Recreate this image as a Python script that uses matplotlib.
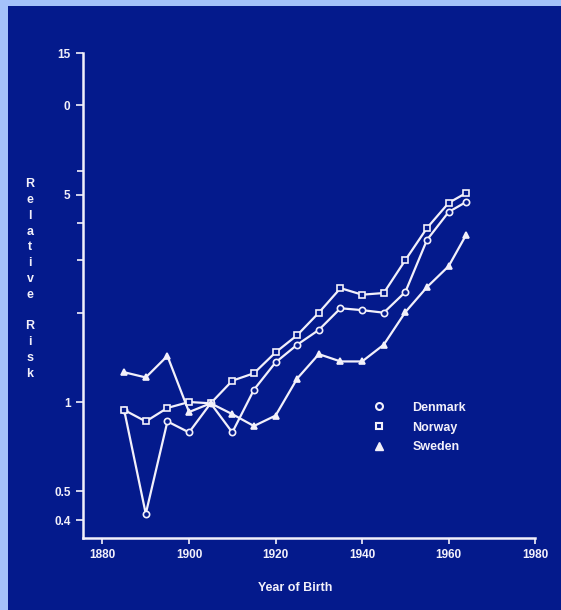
import matplotlib
matplotlib.use("Agg")
import matplotlib.pyplot as plt
from matplotlib.lines import Line2D
from matplotlib.patches import Rectangle
from matplotlib.ticker import FixedLocator, NullFormatter

# relative risk by birth cohort
years = [1885, 1890, 1895, 1900, 1905, 1910, 1915, 1920, 1925,
         1930, 1935, 1940, 1945, 1950, 1955, 1960, 1964]
denmark = [0.94, 0.42, 0.86, 0.79, 0.99, 0.79, 1.10, 1.36, 1.56,
           1.75, 2.07, 2.04, 2.00, 2.35, 3.52, 4.37, 4.72]
norway = [0.94, 0.86, 0.955, 1.00, 0.99, 1.18, 1.25, 1.47, 1.68,
          2.00, 2.42, 2.30, 2.33, 3.01, 3.86, 4.69, 5.06]
sweden = [1.26, 1.21, 1.43, 0.925, 0.99, 0.91, 0.83, 0.90, 1.20,
          1.45, 1.37, 1.37, 1.56, 2.01, 2.44, 2.87, 3.65]

xticks = [1880, 1900, 1920, 1940, 1960, 1980]
yticks = [0.4, 0.5, 1, 5, 10, 15]
ylabels = ["0.4", "0.5", "1", "5", "0", "15"]
yminor = [2, 3, 4, 6]

bg = "#041a8c"
edge = "#a4c2fa"
fg = "#f2f0fa"
font = "Liberation Sans"

fig = plt.figure(figsize=(5.61, 6.10), dpi=100, facecolor=bg)
# light strips on the top and left edge of the slide
fig.patches.append(Rectangle((0, 0), 8 / 561, 1, transform=fig.transFigure,
                             facecolor=edge, edgecolor="none"))
fig.patches.append(Rectangle((0, 1 - 6 / 610), 1, 6 / 610, transform=fig.transFigure,
                             facecolor=edge, edgecolor="none"))

ax = fig.add_axes([0.148, 0.118, 0.806, 0.795])
ax.set_facecolor(bg)

line_kw = dict(color=fg, lw=1.6, markersize=4.5, markeredgewidth=1.2)
ax.plot(years, denmark, marker="o", markerfacecolor=bg, markeredgecolor=fg, **line_kw)
ax.plot(years, norway, marker="s", markerfacecolor=bg, markeredgecolor=fg, **line_kw)
ax.plot(years, sweden, marker="^", markerfacecolor=fg, markeredgecolor=fg, **line_kw)

ax.set_yscale("log")
ax.set_xlim(1875.5, 1980)
ax.set_ylim(0.348, 15)
ax.yaxis.set_major_locator(FixedLocator(yticks))
ax.set_yticklabels(ylabels)
ax.yaxis.set_minor_locator(FixedLocator(yminor))
ax.yaxis.set_minor_formatter(NullFormatter())
ax.set_xticks(xticks)

for s in ["top", "right"]:
    ax.spines[s].set_visible(False)
for s in ["left", "bottom"]:
    ax.spines[s].set_color(fg)
    ax.spines[s].set_linewidth(1.8)

ax.tick_params(axis="both", which="both", colors=fg, width=1.2)
ax.tick_params(axis="y", which="major", length=5, pad=4)
ax.tick_params(axis="y", which="minor", length=4)
ax.tick_params(axis="x", length=4, pad=4)
for lab in ax.get_xticklabels() + ax.get_yticklabels():
    lab.set_fontfamily(font)
    lab.set_fontweight("bold")
    lab.set_fontsize(8.5)
    lab.set_color(fg)

handles = [
    Line2D([], [], ls="none", marker="o", markersize=5, markerfacecolor=bg,
           markeredgecolor=fg, markeredgewidth=1.5, label="Denmark"),
    Line2D([], [], ls="none", marker="s", markersize=5, markerfacecolor=bg,
           markeredgecolor=fg, markeredgewidth=1.5, label="Norway"),
    Line2D([], [], ls="none", marker="^", markersize=6, markerfacecolor=fg,
           markeredgecolor=fg, label="Sweden"),
]
leg = ax.legend(handles=handles, loc="upper left", bbox_to_anchor=(0.615, 0.304),
                frameon=False, handlelength=1.0, handletextpad=2.2, labelspacing=0.62,
                prop=dict(family=font, weight="bold", size=9))
for t in leg.get_texts():
    t.set_color(fg)

ylab = "\n".join(list("Relative")) + "\n\n" + "\n".join(list("Risk"))
fig.text(30 / 561, 1 - 279 / 610, ylab, ha="center", va="center", color=fg,
         fontfamily=font, fontweight="bold", fontsize=9, linespacing=1.42)
fig.text(295 / 561, 1 - 588 / 610, "Year of Birth", ha="center", va="center", color=fg,
         fontfamily=font, fontweight="bold", fontsize=9)

fig.savefig("out.png", dpi=100, facecolor=fig.get_facecolor())
